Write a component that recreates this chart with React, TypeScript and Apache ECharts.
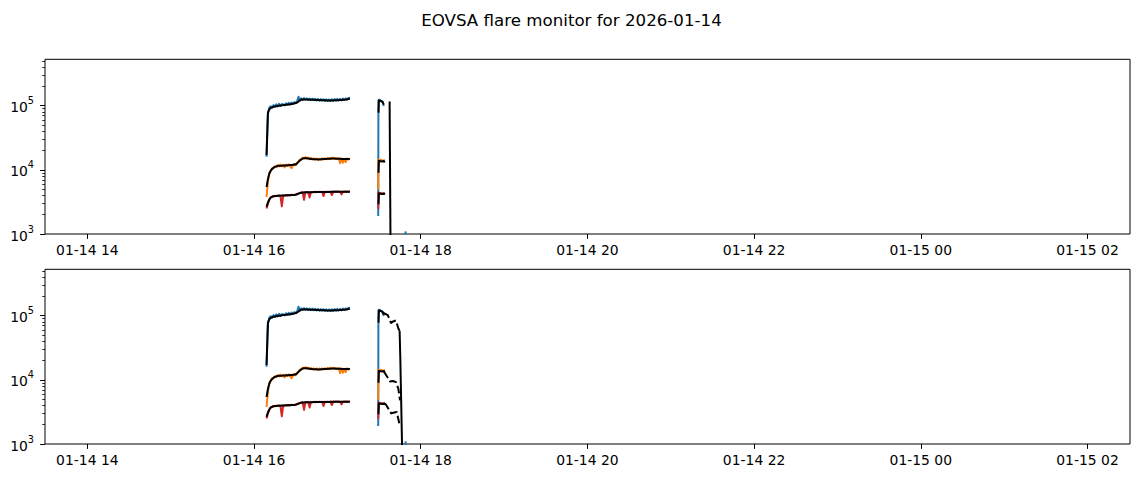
import React, { useEffect, useRef } from "react";
import * as echarts from "echarts";

const TITLE = "EOVSA flare monitor for 2026-01-14";
const FONT = "DejaVu Sans";

// x axis in hours since 2026-01-14 00:00
const X_MIN_H = 13.492;
const X_MAX_H = 26.51;
const X_TICKS_H = [14, 16, 18, 20, 22, 24, 26];

// y axis (log)
const Y_MIN = 1000;
const Y_MAX = 528000;
const Y_MAJOR = [1000, 10000, 100000];
const Y_MINOR = [
  2000, 3000, 4000, 5000, 6000, 7000, 8000, 9000,
  20000, 30000, 40000, 50000, 60000, 70000, 80000, 90000,
  200000, 300000, 400000, 500000,
];

// ---- Segment 1: minutes after 16:00 ----
const T1 = [
  9, 10, 11, 12, 13, 14, 15, 16, 17, 18,
  19, 20, 21, 22, 23, 24, 25, 26, 27, 28,
  29, 30, 31, 32, 33, 34, 35, 36, 37, 38,
  39, 40, 41, 42, 43, 44, 45, 46, 47, 48,
  49, 50, 51, 52, 53, 54, 55, 56, 57, 58,
  59, 60, 61, 62, 63, 64, 65, 66, 67, 68,
  69,
];
const BLUE1 = [
  16000, 74000, 93000, 98000, 93000, 102000, 96000, 105000, 97500, 107000,
  99000, 106000, 104500, 101000, 109000, 103000, 111000, 104000, 112000, 106000,
  114000, 109000, 116000, 138000, 119000, 130000, 123000, 131000, 124000, 130000,
  122500, 129000, 122000, 128500, 121500, 128000, 120500, 127500, 119500, 126500,
  120000, 126000, 118500, 125500, 119000, 125000, 118000, 126000, 119000, 127000,
  119500, 127500, 120000, 128000, 121000, 129000, 122000, 130000, 124000, 132000,
  133000,
];
const FIT_B1 = [
  17000, 78000, 88000, 92000, 94500, 96000, 97000, 98000, 99000, 100000,
  100500, 101000, 102000, 102500, 103000, 104000, 104500, 105500, 106500, 107500,
  108500, 110000, 112000, 116000, 121000, 123500, 124500, 125000, 125000, 124500,
  124500, 124000, 124000, 123500, 123500, 123000, 123000, 122500, 122000, 122000,
  121500, 121000, 121000, 120500, 120500, 120000, 120000, 120500, 120500, 121000,
  121500, 122000, 122000, 122500, 123000, 123500, 124000, 124500, 125500, 127000,
  129500,
];
const ORANGE1 = [
  3800, 6500, 9000, 9500, 10600, 10500, 11400, 11000, 11900, 11300,
  12100, 11400, 12000, 10900, 12100, 11500, 12200, 11300, 10600, 11700,
  12400, 11800, 12900, 13500, 14400, 14300, 15600, 15000, 15800, 14900,
  15500, 14700, 15300, 14500, 15100, 14400, 15000, 14300, 15000, 14400,
  15100, 14500, 15200, 14600, 15300, 14700, 15500, 14800, 15400, 14800,
  15300, 14700, 15200, 12700, 15100, 12900, 14500, 13200, 15100, 14500,
  15000,
];
const FIT_O1 = [
  5400, 7200, 8700, 9700, 10300, 10800, 11100, 11300, 11450, 11550,
  11600, 11600, 11650, 11700, 11700, 11750, 11800, 11850, 11900, 11950,
  12000, 12200, 12600, 13300, 14000, 14600, 15000, 15200, 15200, 15100,
  15000, 14900, 14800, 14700, 14650, 14600, 14600, 14550, 14550, 14600,
  14650, 14700, 14750, 14800, 14850, 14900, 14950, 15000, 15000, 15000,
  14950, 14900, 14900, 14850, 14800, 14800, 14750, 14750, 14700, 14700,
  14700,
];
const RED1 = [
  2500, 3000, 3400, 3750, 3780, 3900, 3880, 3960, 3920, 4000,
  3940, 2700, 4000, 3960, 4030, 3990, 4060, 4010, 4080, 4030,
  4090, 4130, 4200, 4270, 4380, 4420, 4480, 3400, 4500, 4450,
  4510, 3700, 4520, 4470, 4540, 4480, 4550, 4490, 4560, 4500,
  4570, 3900, 4560, 4510, 4580, 4520, 4570, 4050, 4580, 4530,
  4590, 4540, 4580, 4530, 4150, 4540, 4590, 4550, 4600, 4560,
  4600,
];
const FIT_R1 = [
  2650, 3100, 3450, 3700, 3800, 3870, 3900, 3920, 3940, 3950,
  3960, 3970, 3980, 3990, 4000, 4010, 4020, 4030, 4040, 4050,
  4060, 4100, 4150, 4250, 4330, 4390, 4430, 4450, 4460, 4470,
  4480, 4480, 4490, 4490, 4500, 4500, 4500, 4510, 4510, 4510,
  4520, 4520, 4520, 4530, 4530, 4530, 4540, 4540, 4540, 4540,
  4550, 4550, 4550, 4550, 4550, 4560, 4560, 4560, 4560, 4560,
  4560,
];

// ---- Segment 2 ----
const T_BLUE2 = [89.4, 89.55, 90.3, 91.2, 92.1, 93.0, 93.4];
const BLUE2 = [1900, 121000, 124000, 119000, 117000, 108000, 99000];
const T_ORANGE2 = [89.45, 89.6, 90.5, 91.5, 92.5, 93.5, 94.2];
const ORANGE2 = [4900, 14300, 14000, 14400, 13700, 14100, 14300];
const T_RED2 = [89.45, 89.6, 90.5, 91.5, 92.5, 93.5, 94.2];
const RED2 = [2450, 4450, 4300, 4350, 4200, 4300, 4400];
const T_FIT_B2 = [89.6, 89.9, 91.5, 92.7, 93.2];
const FIT_B2 = [78000, 120000, 118000, 114000, 104000];
const T_FIT_O2 = [89.6, 89.9, 92.0, 93.5, 94.0];
const FIT_O2 = [9000, 13800, 13500, 13700, 13000];
const T_FIT_R2 = [89.6, 89.9, 92.0, 93.5, 94.0];
const FIT_R2 = [2900, 4300, 4200, 4280, 4100];
const T_BLUE3 = [109.0, 109.15];
const BLUE3 = [980, 1100];

// top panel only
const T_DROP_TOP = [97.6, 98.3];
const DROP_TOP = [116000, 500];

// bottom panel only
const T_DASH_B = [93.2, 96.3, 98.6, 100.5, 102.2, 103.9, 104.8];
const DASH_B = [110000, 102000, 77000, 82000, 84000, 63000, 58000];
const T_DASH_O = [93.5, 95.5, 97.9, 100, 102.2, 103.9, 105.1];
const DASH_O = [13500, 11500, 9400, 9600, 9200, 7200, 4800];
const T_DASH_R = [93.5, 95, 98.8, 101, 102.7, 104.6];
const DASH_R = [4300, 4100, 3000, 3100, 3150, 2100];
const T_DROP_BOT = [104.8, 105.3, 105.9, 106.5, 106.9];
const DROP_BOT = [58000, 22000, 5000, 1100, 500];

const C_BLUE = "#1f77b4";
const C_ORANGE = "#ff7f0e";
const C_RED = "#d62728";
const C_BLACK = "#000000";

const pts = (t: number[], v: number[]) =>
  t.map((m, i) => [16 + m / 60, Math.log10(v[i])]);

function line(g: number, t: number[], v: number[], color: string, width: number, dashed = false, z = 2) {
  return {
    type: "line",
    xAxisIndex: g,
    yAxisIndex: 2 * g,
    data: pts(t, v),
    symbol: "none",
    showSymbol: false,
    silent: true,
    clip: true,
    z,
    lineStyle: { color, width, type: dashed ? [7.7, 3.3] : "solid", cap: "butt", join: "round" },
    itemStyle: { color },
  };
}

function xLabel(v: number) {
  const h = Math.round(v);
  if (h < 24) return `01-14 ${String(h).padStart(2, "0")}`;
  return `01-15 ${String(h - 24).padStart(2, "0")}`;
}

export default function App() {
  const ref = useRef<HTMLDivElement>(null);
  useEffect(() => {
    if (!ref.current) return;
    const chart = echarts.init(ref.current, null, { renderer: "svg" });
    const gridTops = [59.3, 269.3];
    const grids = gridTops.map((top) => ({
      left: 45,
      top,
      width: 1085,
      height: 174.7,
      show: true,
      borderColor: "#000",
      borderWidth: 1,
      backgroundColor: "transparent",
      containLabel: false,
    }));
    const xAxes = gridTops.map((_, g) => ({
      type: "value",
      gridIndex: g,
      min: X_MIN_H,
      max: X_MAX_H,
      axisLine: { show: false },
      splitLine: { show: false },
      axisTick: { show: true, length: 4.9, customValues: X_TICKS_H, lineStyle: { color: "#000", width: 1 } },
      axisLabel: {
        customValues: X_TICKS_H,
        formatter: xLabel,
        margin: 9,
        fontSize: 13.9,
        color: "#000",
        fontFamily: FONT,
      },
    }));
    const yMin = Math.log10(Y_MIN);
    const yMax = Math.log10(Y_MAX);
    const majors = Y_MAJOR.map((v) => Math.log10(v));
    const minors = Y_MINOR.map((v) => Math.log10(v));
    const yAxes: any[] = [];
    gridTops.forEach((_, g) => {
      yAxes.push({
        type: "value",
        gridIndex: g,
        position: "left",
        min: yMin,
        max: yMax,
        axisLine: { show: false },
        splitLine: { show: false },
        axisTick: { show: true, length: 4.9, customValues: majors, lineStyle: { color: "#000", width: 1 } },
        axisLabel: {
          customValues: majors,
          margin: 11,
          formatter: (v: number) => `{b|10}{s|${Math.round(v)}}`,
          rich: {
            b: { fontSize: 13.9, lineHeight: 14, fontFamily: FONT, color: "#000", padding: [3, 0, 0, 0] },
            s: { fontSize: 9.7, lineHeight: 10, fontFamily: FONT, color: "#000", padding: [0, 0, 10, 0] },
          },
        },
      });
      yAxes.push({
        type: "value",
        gridIndex: g,
        position: "left",
        offset: 0,
        min: yMin,
        max: yMax,
        axisLine: { show: false },
        splitLine: { show: false },
        axisLabel: { show: false },
        axisTick: { show: true, length: 2.8, customValues: minors, lineStyle: { color: "#000", width: 0.8 } },
      });
    });

    const series: any[] = [];
    [0, 1].forEach((g) => {
      series.push(line(g, T1, BLUE1, C_BLUE, 2));
      series.push(line(g, T_BLUE2, BLUE2, C_BLUE, 2));
      series.push(line(g, T_BLUE3, BLUE3, C_BLUE, 2));
      series.push(line(g, T1, ORANGE1, C_ORANGE, 2));
      series.push(line(g, T_ORANGE2, ORANGE2, C_ORANGE, 2));
      series.push(line(g, T1, RED1, C_RED, 2));
      series.push(line(g, T_RED2, RED2, C_RED, 2));
      series.push(line(g, T1, FIT_B1, C_BLACK, 2, false, 3));
      series.push(line(g, T_FIT_B2, FIT_B2, C_BLACK, 2, false, 3));
      series.push(line(g, T1, FIT_O1, C_BLACK, 2, false, 3));
      series.push(line(g, T_FIT_O2, FIT_O2, C_BLACK, 2, false, 3));
      series.push(line(g, T1, FIT_R1, C_BLACK, 2, false, 3));
      series.push(line(g, T_FIT_R2, FIT_R2, C_BLACK, 2, false, 3));
    });
    series.push(line(0, T_DROP_TOP, DROP_TOP, C_BLACK, 2, false, 3));
    series.push(line(1, T_DASH_B, DASH_B, C_BLACK, 2, true, 3));
    series.push(line(1, T_DASH_O, DASH_O, C_BLACK, 2, true, 3));
    series.push(line(1, T_DASH_R, DASH_R, C_BLACK, 2, true, 3));
    series.push(line(1, T_DROP_BOT, DROP_BOT, C_BLACK, 2, false, 3));

    chart.setOption({
      animation: false,
      backgroundColor: "#ffffff",
      title: {
        text: TITLE,
        left: "center",
        top: 7,
        textStyle: { fontSize: 16.67, fontWeight: "normal", color: "#000", fontFamily: FONT },
      },
      grid: grids,
      xAxis: xAxes,
      yAxis: yAxes,
      series,
    });
    return () => chart.dispose();
  }, []);
  return (
    <div
      ref={ref}
      style={{ position: "fixed", left: 0, top: 0, width: 1143, height: 478, background: "#fff" }}
    />
  );
}
